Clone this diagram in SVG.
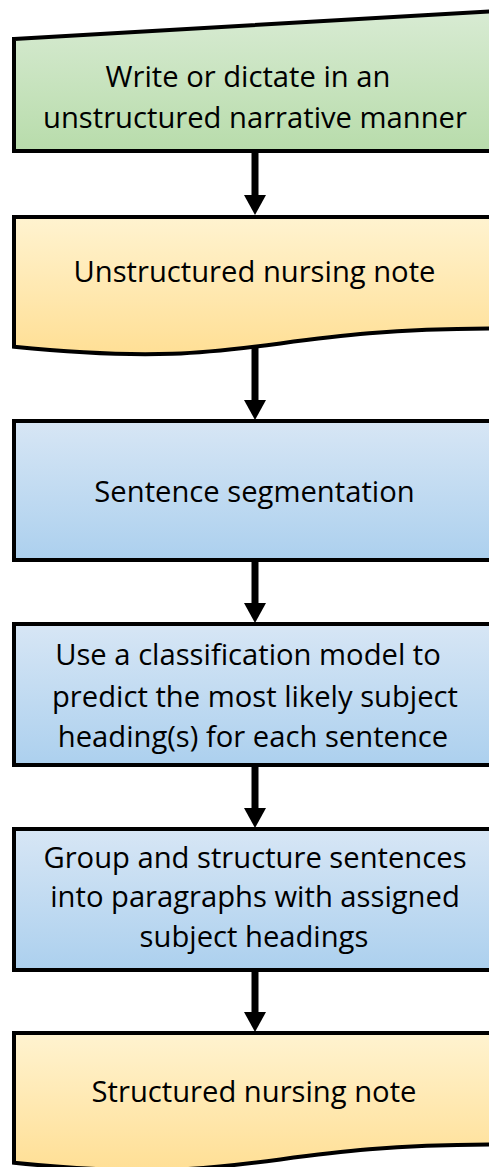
<svg xmlns="http://www.w3.org/2000/svg" width="489" height="1167" viewBox="0 0 489 1167">
<style>
.box{stroke:#000;stroke-width:4;stroke-linejoin:miter}
.t{font-family:"Open Sans","Noto Sans",sans-serif;font-size:29.2px;fill:#000;text-anchor:middle}
.arr{stroke:#000;stroke-width:7;fill:none;marker-end:url(#head)}
</style>
<defs>
<linearGradient id="gGreen" x1="0" y1="0" x2="0" y2="1">
<stop offset="0" stop-color="#d8ebd3"/>
<stop offset="1" stop-color="#b8dcab"/>
</linearGradient>
<linearGradient id="gYellow" x1="0" y1="0" x2="0" y2="1">
<stop offset="0" stop-color="#fff3d0"/>
<stop offset="1" stop-color="#ffdf95"/>
</linearGradient>
<linearGradient id="gBlue" x1="0" y1="0" x2="0" y2="1">
<stop offset="0" stop-color="#d7e6f5"/>
<stop offset="1" stop-color="#acd0ee"/>
</linearGradient>
<marker id="head" viewBox="0 -11 20 22" refX="0" refY="0" markerWidth="20" markerHeight="22" markerUnits="userSpaceOnUse" orient="auto">
<path d="M0,-11 L20,0 L0,11 Z" fill="#000"/>
</marker>
</defs>
<g id="connectors">
<path class="arr" d="M255,151 L255,195"/>
<path class="arr" d="M255,347 L255,400"/>
<path class="arr" d="M255,560 L255,603"/>
<path class="arr" d="M255,765 L255,808"/>
<path class="arr" d="M255,970 L255,1012"/>
</g>
<g id="n1">
<path class="box" fill="url(#gGreen)" d="M14,39 L496,11 L496,151 L14,151 Z"/>
<text class="t" x="248" y="87">Write or dictate in an</text>
<text class="t" x="255" y="128">unstructured narrative manner</text>
</g>
<g id="n2">
<path class="box" fill="url(#gYellow)" d="M14,217 L496,217 L496,328.5 C255,328.5 255,371 14,346.8 Z"/>
<text class="t" x="254.5" y="282">Unstructured nursing note</text>
</g>
<g id="n3">
<rect class="box" fill="url(#gBlue)" x="14" y="421" width="482" height="139"/>
<text class="t" x="254.5" y="502">Sentence segmentation</text>
</g>
<g id="n4">
<rect class="box" fill="url(#gBlue)" x="14" y="624" width="482" height="141"/>
<text class="t" x="248" y="665">Use a classification model to</text>
<text class="t" x="255" y="707">predict the most likely subject</text>
<text class="t" x="253" y="747">heading(s) for each sentence</text>
</g>
<g id="n5">
<rect class="box" fill="url(#gBlue)" x="14" y="829" width="482" height="141"/>
<text class="t" x="255" y="868">Group and structure sentences</text>
<text class="t" x="255" y="907">into paragraphs with assigned</text>
<text class="t" x="254" y="947">subject headings</text>
</g>
<g id="n6">
<path class="box" fill="url(#gYellow)" d="M14,1033 L496,1033 L496,1144.5 C255,1144.5 255,1187 14,1162.8 Z"/>
<text class="t" x="254" y="1102">Structured nursing note</text>
</g>
</svg>
